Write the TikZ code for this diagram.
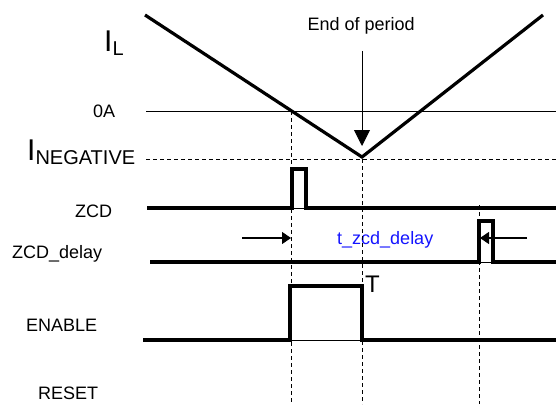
\documentclass[tikz,border=0pt]{standalone}
\usepackage{fontspec}
\setmainfont{Liberation Sans}
\usetikzlibrary{arrows.meta}
\definecolor{delayblue}{RGB}{20,20,255}
\begin{document}
\begin{tikzpicture}[x=1pt,y=-1pt,
  wave/.style={line width=3.2pt, line join=miter},
  thinline/.style={line width=0.9pt},
  guide/.style={line width=0.9pt, dash pattern=on 4pt off 3pt},
  lbl/.style={font=\fontsize{18}{18}\selectfont, inner sep=0pt, anchor=base west},
  big/.style={inner sep=0pt, anchor=base west},
  bigarrow/.style={line width=0.9pt, -{Triangle[length=16pt 0,width=16pt 0]}},
  smallarrow/.style={line width=1.2pt, -{Triangle[length=9pt 0,width=12pt 0]}},
]
\useasboundingbox (0,0) rectangle (556,404);

% key points
\coordinate (ilstart) at (145,15);
\coordinate (vbot) at (362,157);
\coordinate (ilend) at (543,15);
\coordinate (zeroL) at (146,111);
\coordinate (zeroR) at (556,111);
\coordinate (negL) at (146,159);
\coordinate (negR) at (556,159);
\coordinate (zc) at (291,111);
\coordinate (zcb) at (291,404);
\coordinate (vb) at (362,159);
\coordinate (vbb) at (362,404);
\coordinate (dl) at (479,205);
\coordinate (dlb) at (479,404);

% labels
\node[big] (il) at (104,52) {\fontsize{30}{30}\selectfont I\fontsize{20}{20}\selectfont\raisebox{-4pt}{L}};
\node[lbl] (oa) at (93,117) {0A};
\node[big] (ineg) at (27,160) {\fontsize{30}{30}\selectfont I\fontsize{20}{20}\selectfont\raisebox{-4pt}{NEGATIVE}};
\node[lbl] (zcd) at (75,217) {ZCD};
\node[lbl] (zcdd) at (12,258) {ZCD\_delay};
\node[lbl] (en) at (26,331) {ENABLE};
\node[lbl] (rst) at (38,399) {RESET};
\node[lbl] (eop) at (307.5,31) {End of period};
\node[lbl, text=delayblue] (tz) at (337,244) {t\_zcd\_delay};
\node[big, font=\fontsize{24}{24}\selectfont] (tl) at (365,292) {T};

% reference lines
\draw[thinline] (zeroL) -- (zeroR);
\draw[guide] (negL) -- (negR);
\draw[guide] (zc) -- (zcb);
\draw[guide] (vb) -- (vbb);
\draw[guide] (dl) -- (dlb);

% inductor current
\draw[wave] (ilstart) -- (vbot) -- (ilend);

% end of period arrow
\coordinate (eopS) at (362,51);
\coordinate (eopE) at (362,146);
\draw[bigarrow] (eopS) -- (eopE);

% ZCD
\coordinate (zcdL) at (147,208);
\coordinate (zcdR) at (556,208);
\draw[thinline] (zcdL) -- (zcdR);
\draw[wave] (zcdL) -- (292,208) -- (292,169) -- (306,169) -- (306,208) -- (zcdR);

% ZCD_delay
\coordinate (zdL) at (150,262);
\coordinate (zdR) at (556,262);
\draw[thinline] (zdL) -- (zdR);
\draw[wave] (zdL) -- (479,262) -- (479,221) -- (493,221) -- (493,262) -- (zdR);

% ENABLE
\coordinate (enL) at (143,340);
\coordinate (enR) at (556,340);
\draw[thinline] (enL) -- (enR);
\draw[wave] (enL) -- (290,340) -- (290,286) -- (362,286) -- (362,340) -- (enR);

% delay arrows
\coordinate (a1s) at (242,238);
\coordinate (a1e) at (291,238);
\coordinate (a2s) at (527,238);
\coordinate (a2e) at (480,238);
\draw[smallarrow] (a1s) -- (a1e);
\draw[smallarrow] (a2s) -- (a2e);
\end{tikzpicture}
\end{document}
